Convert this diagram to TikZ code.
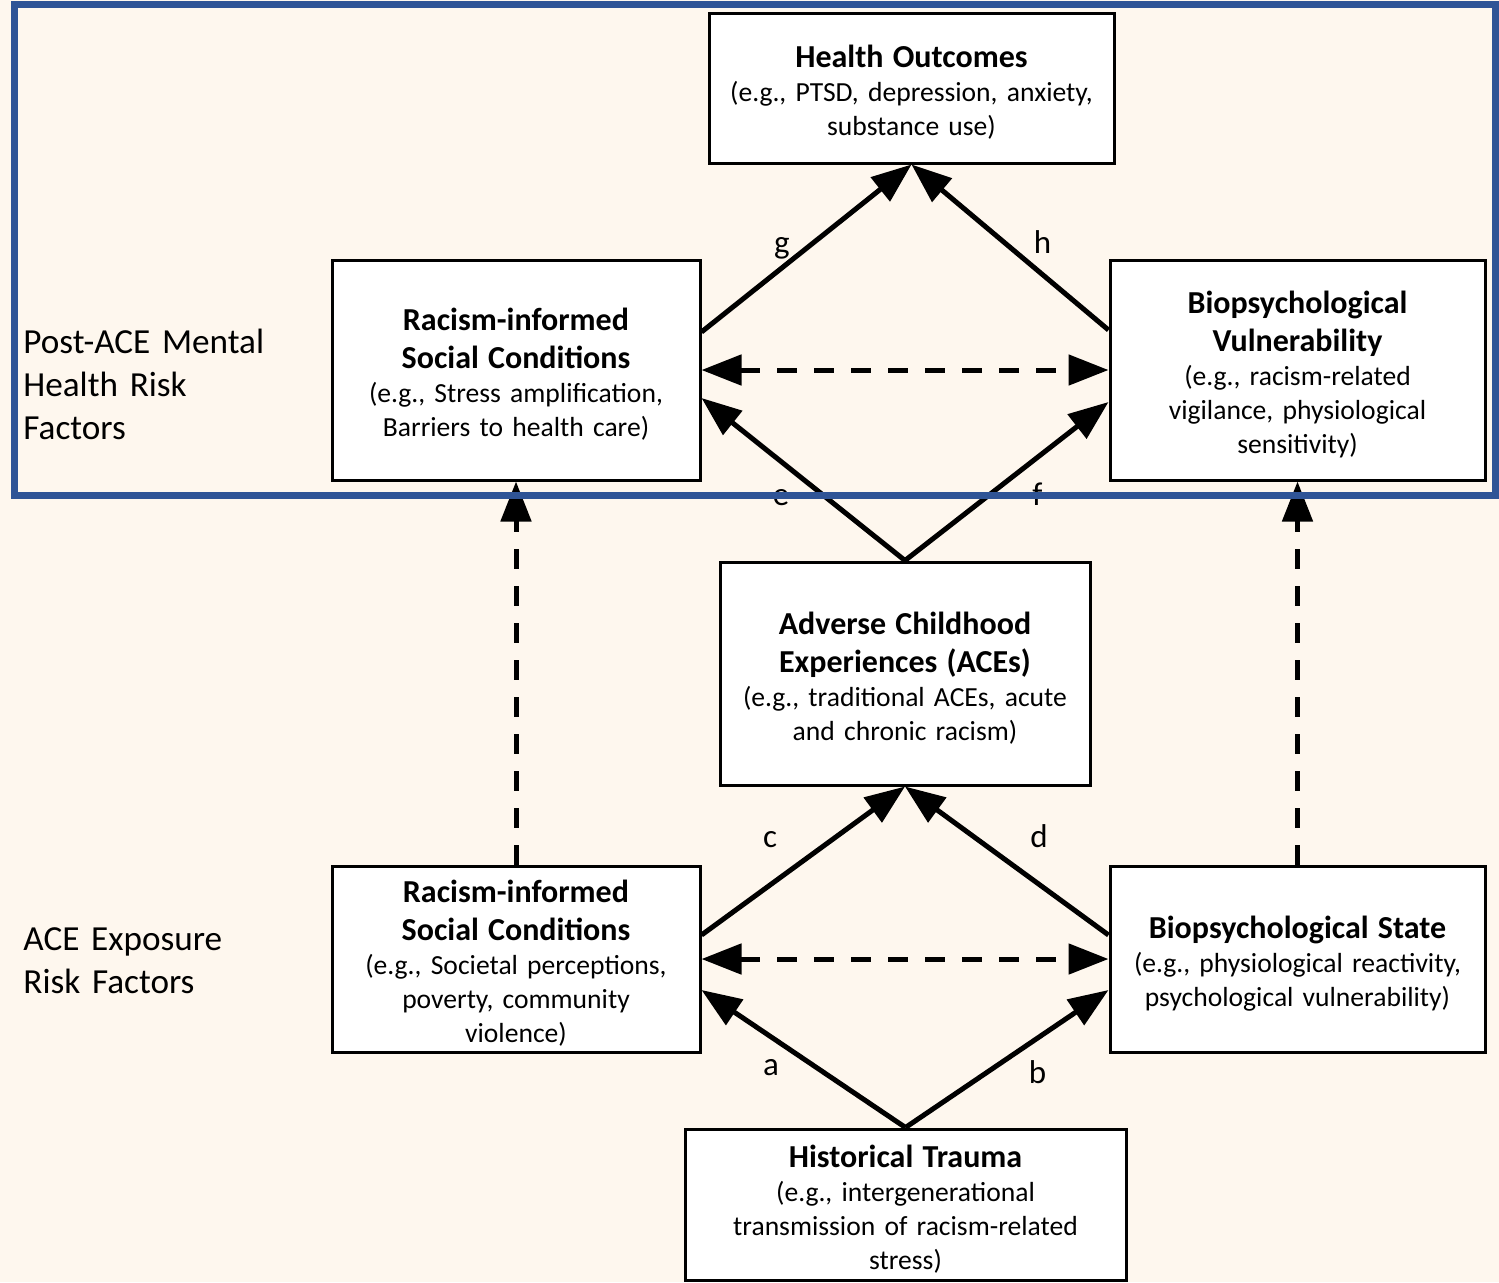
\documentclass[tikz,border=0pt]{standalone}
\usepackage{fontspec}
\setmainfont{Carlito}
\usetikzlibrary{arrows.meta}
\definecolor{bgc}{HTML}{FEF7EE}
\definecolor{framec}{HTML}{2F5496}
\newcommand\ttlfont{\fontsize{16}{19}\selectfont\bfseries}
\begin{document}
\begin{tikzpicture}[x=0.5pt,y=-0.5pt,
  box/.style={draw, line width=1.5pt, fill=white, align=center, inner xsep=4pt, inner ysep=2pt,
    font=\fontsize{13.8}{17}\selectfont, text height=15.5pt},
  lbl/.style={anchor=base, font=\fontsize{16.5}{19}\selectfont, inner sep=0pt},
  side/.style={anchor=base west, align=left, text width=140pt, inner sep=0pt,
    font=\fontsize{17.6}{21.5}\selectfont},
  arr/.style={line width=2.5pt, -{Triangle[length=20pt,width=15pt]}},
  darr/.style={line width=2.5pt, dash pattern=on 10pt off 8.5pt,
    {Triangle[length=20pt,width=15pt]}-{Triangle[length=20pt,width=15pt]}},
  uarr/.style={line width=2.5pt, dash pattern=on 10pt off 8.5pt, -{Triangle[length=20pt,width=15pt]}}
]
\fill[bgc] (0,0) rectangle (1499,1282);
\useasboundingbox (0,0) rectangle (1499,1282);

% boxes
\node[box, text width=194.5pt, minimum height=75pt] (HO) at (911.5,88)
  {{\ttlfont Health Outcomes\par}(e.g., PTSD, depression, anxiety,\\substance use)};
\node[box, text width=176pt, minimum height=110pt] (RT) at (516,370)
  {{\ttlfont Racism-informed\\Social Conditions\par}(e.g., Stress amplification,\\Barriers to health care)};
\node[box, text width=179.5pt, minimum height=110pt] (BV) at (1297.5,370)
  {{\ttlfont Biopsychological\\Vulnerability\par}(e.g., racism-related\\vigilance, physiological\\sensitivity)};
\node[box, text width=177pt, minimum height=111.5pt] (ACE) at (905,673.5)
  {{\ttlfont Adverse Childhood\\Experiences (ACEs)\par}(e.g., traditional ACEs, acute\\and chronic racism)};
\node[box, text width=176pt, minimum height=93pt] (RB) at (516,959)
  {{\ttlfont Racism-informed\\Social Conditions\par}(e.g., Societal perceptions,\\poverty, community\\violence)};
\node[box, text width=179.5pt, minimum height=93pt] (BS) at (1297.5,959)
  {{\ttlfont Biopsychological State\par}(e.g., physiological reactivity,\\psychological vulnerability)};
\node[box, text width=212.5pt, minimum height=75.5pt] (HT) at (905.5,1204.5)
  {{\ttlfont Historical Trauma\par}(e.g., intergenerational\\transmission of racism-related\\stress)};

% side labels
\node[side] (post) at (23,353) {Post-ACE Mental\\Health Risk\\Factors};
\node[side] (expo) at (23,950) {ACE Exposure\\Risk Factors};

% connectors
\draw[arr] ([yshift=19pt]RT.east) -- (HO.south);
\draw[arr] ([yshift=20pt]BV.west) -- (HO.south);
\draw[darr] (RT.east) -- (BV.west);
\draw[arr] (ACE.north) -- ([yshift=-14pt]RT.east);
\draw[arr] (ACE.north) -- ([yshift=-16pt]BV.west);
\draw[uarr] (RB.north) -- (RT.south);
\draw[uarr] (BS.north) -- (BV.south);
\draw[arr] ([yshift=12pt]RB.east) -- (ACE.south);
\draw[arr] ([yshift=12pt]BS.west) -- (ACE.south);
\draw[darr] (RB.east) -- (BS.west);
\draw[arr] (HT.north) -- ([yshift=-15.5pt]RB.east);
\draw[arr] (HT.north) -- ([yshift=-15.5pt]BS.west);

% edge labels
\node[lbl] (lg) at (782,253) {g};
\node[lbl] (lh) at (1042.5,253) {h};
\node[lbl] (le) at (781,505) {e};
\node[lbl] (lf) at (1037.5,505) {f};
\node[lbl] (lc) at (770,847) {c};
\node[lbl] (ld) at (1039,847) {d};
\node[lbl] (la) at (771,1075) {a};
\node[lbl] (lb) at (1037.5,1083) {b};

% frame
\draw[framec, line width=3.5pt] (14.5,4.5) rectangle (1495,495);
\end{tikzpicture}
\end{document}
